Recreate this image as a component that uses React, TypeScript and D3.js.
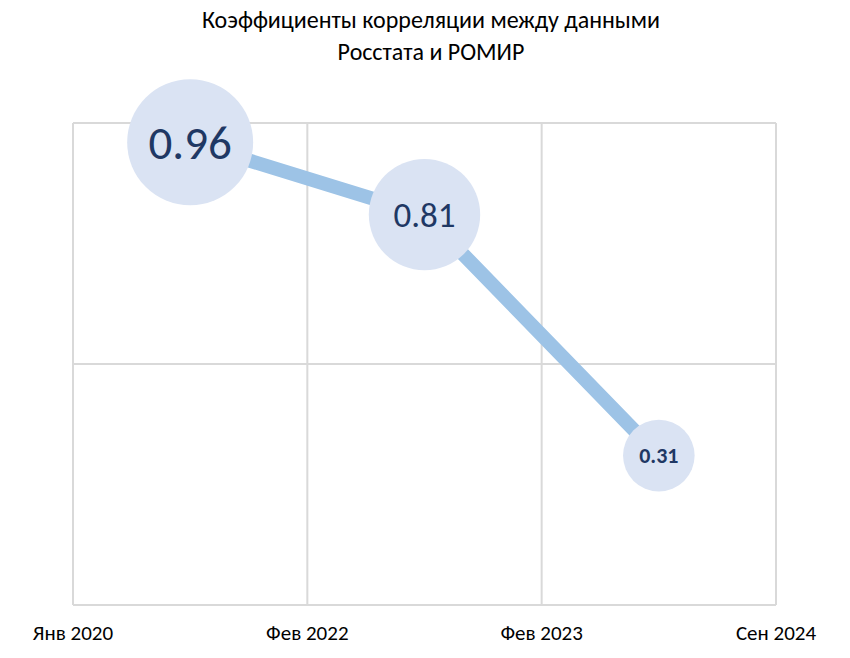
import { useEffect, useRef } from "react";
import * as d3 from "d3";

const titleLines = ["Коэффициенты корреляции между данными", "Росстата и РОМИР"];
const tickLabels = ["Янв 2020", "Фев 2022", "Фев 2023", "Сен 2024"];
const values = [0.96, 0.81, 0.31];
const bubbleSizes = [0.96, 0.75, 0.31];
const fontSizes = [47, 35, 22];
const yGrid = [0, 0.5, 1];

const FONT = "Carlito, Calibri, Lato, 'Open Sans', sans-serif";

const App = () => {
	const svgRef = useRef<SVGSVGElement>(null);

	useEffect(() => {
		if (!svgRef.current) return;
		const width = 850;
		const height = 658;
		const margin = { top: 123, left: 73, right: 74, bottom: 53 };

		const svg = d3
			.select(svgRef.current)
			.attr("width", width)
			.attr("height", height)
			.style("font-family", FONT);
		svg.selectAll("*").remove();

		const x = d3
			.scaleLinear()
			.domain([0, tickLabels.length - 1])
			.range([margin.left, width - margin.right]);
		const y = d3
			.scaleLinear()
			.domain([0, 1])
			.range([height - margin.bottom, margin.top]);
		const r = d3.scaleSqrt().domain([0, 0.96]).range([0, 63]);

		// Title
		svg
			.append("g")
			.selectAll("text")
			.data(titleLines)
			.join("text")
			.attr("x", 431)
			.attr("y", (_, i) => 28 + i * 32)
			.attr("text-anchor", "middle")
			.style("font-size", "24px")
			.style("fill", "#000")
			.text((d) => d);

		// Grid
		const grid = svg.append("g").attr("stroke", "#d9d9d9").attr("stroke-width", 2);
		grid
			.selectAll("line.v")
			.data(tickLabels)
			.join("line")
			.attr("class", "v")
			.attr("x1", (_, i) => x(i))
			.attr("x2", (_, i) => x(i))
			.attr("y1", y(1))
			.attr("y2", y(0));
		grid
			.selectAll("line.h")
			.data(yGrid)
			.join("line")
			.attr("class", "h")
			.attr("x1", x(0))
			.attr("x2", x(tickLabels.length - 1))
			.attr("y1", (d) => y(d))
			.attr("y2", (d) => y(d));

		// X labels
		svg
			.append("g")
			.selectAll("text")
			.data(tickLabels)
			.join("text")
			.attr("x", (_, i) => x(i))
			.attr("y", y(0) + 35)
			.attr("text-anchor", "middle")
			.style("font-size", "21px")
			.style("fill", "#000")
			.text((d) => d);

		// Line
		const line = d3
			.line<number>()
			.x((_, i) => x(i + 0.5))
			.y((d) => y(d));
		svg
			.append("path")
			.datum(values)
			.attr("d", line)
			.attr("fill", "none")
			.attr("stroke", "#9dc3e6")
			.attr("stroke-width", 14);

		// Bubbles
		svg
			.append("g")
			.selectAll("circle")
			.data(values)
			.join("circle")
			.attr("cx", (_, i) => x(i + 0.5))
			.attr("cy", (d) => y(d))
			.attr("r", (_, i) => r(bubbleSizes[i]))
			.attr("fill", "#dae3f3");

		// Labels
		svg
			.append("g")
			.selectAll("text")
			.data(values)
			.join("text")
			.attr("x", (_, i) => x(i + 0.5))
			.attr("y", (d) => y(d))
			.attr("dy", "0.35em")
			.attr("text-anchor", "middle")
			.style("font-size", (_, i) => `${fontSizes[i]}px`)
			.style("font-weight", (_, i) => (i === 2 ? "bold" : "normal"))
			.style("fill", "#1f3864")
			.text((d) => d.toFixed(2));
	}, []);

	return <svg ref={svgRef} style={{ display: "block", margin: "-8px" }} />;
};

export default App;
